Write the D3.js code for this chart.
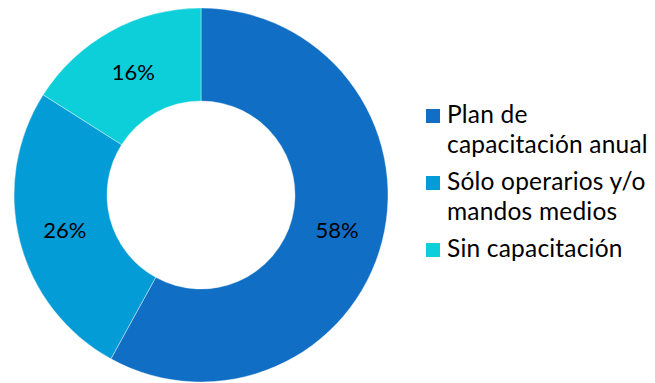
<!DOCTYPE html>
<html>
<head>
<meta charset="utf-8">
<script src="https://cdn.jsdelivr.net/npm/d3@7"></script>
<style>
  html, body { margin: 0; padding: 0; background: #fff; }
  svg { display: block; }
  text { font-family: Lato, "Open Sans", sans-serif; fill: #000; }
</style>
</head>
<body>
<svg id="chart" width="655" height="383"></svg>
<script>
// Training coverage shares
const categories = ["Plan de capacitación anual", "Sólo operarios y/o mandos medios", "Sin capacitación"];
const values = [58, 26, 16];
const legendLines = [["Plan de", "capacitación anual"], ["Sólo operarios y/o", "mandos medios"], ["Sin capacitación"]];
const colors = ["#106EC4", "#049CD6", "#0DCFDA"];

const svg = d3.select("#chart");
const cx = 201, cy = 195, outerR = 187, innerR = 94;

const color = d3.scaleOrdinal().domain(categories).range(colors);
const pie = d3.pie().sort(null).value(d => d.value);
const arcs = pie(categories.map((c, i) => ({ name: c, value: values[i] })));
const arc = d3.arc().innerRadius(innerR).outerRadius(outerR);
const labelArc = d3.arc().innerRadius((innerR + outerR) / 2).outerRadius((innerR + outerR) / 2);

const g = svg.append("g").attr("transform", `translate(${cx},${cy})`);

g.selectAll("path.slice")
  .data(arcs)
  .join("path")
  .attr("class", "slice")
  .attr("d", arc)
  .attr("fill", d => color(d.data.name))
  .attr("stroke", "rgba(255,255,255,0.5)")
  .attr("stroke-width", 0.75);

g.selectAll("text.pct")
  .data(arcs)
  .join("text")
  .attr("class", "pct")
  .attr("transform", d => `translate(${labelArc.centroid(d)})`)
  .attr("text-anchor", "middle")
  .attr("dy", "0.36em")
  .style("font-size", "22px")
  .text(d => d.data.value + "%");

// Legend
const legend = svg.append("g");
let y = 123;
legendLines.forEach((lines, i) => {
  legend.append("rect")
    .attr("x", 426).attr("y", y - 14)
    .attr("width", 14).attr("height", 14)
    .attr("fill", color(categories[i]));
  lines.forEach((ln, j) => {
    legend.append("text")
      .attr("x", 447).attr("y", y + j * 30)
      .style("font-size", "24.5px")
      .style("letter-spacing", "0.2px")
      .text(ln);
  });
  y += lines.length * 30 + 7;
});
</script>
</body>
</html>
